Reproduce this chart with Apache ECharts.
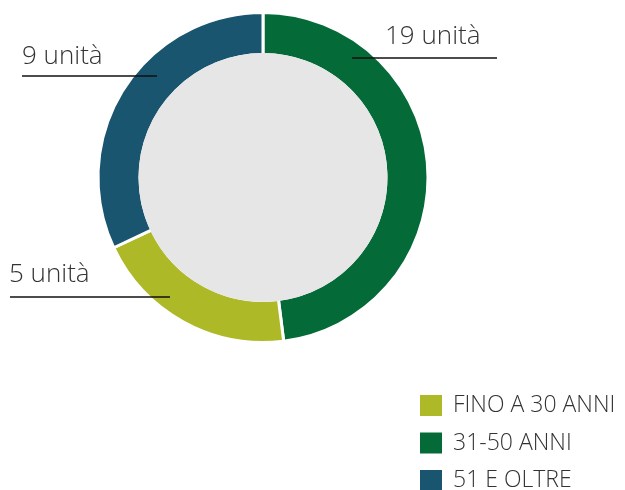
<!DOCTYPE html>
<html>
<head>
<meta charset="utf-8">
<script src="https://cdn.jsdelivr.net/npm/echarts@6/dist/echarts.min.js"></script>
<style>
html,body{margin:0;padding:0;background:#fff;}
#chart{width:625px;height:490px;}
</style>
</head>
<body>
<div id="chart"></div>
<script>
// Data (clockwise from top)
const categories = ['31-50 ANNI', 'FINO A 30 ANNI', '51 E OLTRE'];
const sliceShares = [48, 20, 32];      // slice sizes as drawn in the picture
const unitCounts = [19, 5, 9];          // numbers written in the labels
const legendOrder = ['FINO A 30 ANNI', '31-50 ANNI', '51 E OLTRE'];
const colors = ['#046a38', '#adb927', '#1a556f'];
const unitLabel = 'unità';

// annotation placement (label text position + underline)
const labelPlace = [
  {x: 385, y: 37, line: [[497, 58], [352, 58]]},
  {x: 9, y: 275, line: [[10, 297], [170, 297]]},
  {x: 22, y: 57, line: [[22, 76], [157, 76]]}
];

const chart = echarts.init(document.getElementById('chart'));
const fontFamily = '"Open Sans", "Noto Sans", sans-serif';
const pieData = categories.map((c, i) => ({name: c, value: sliceShares[i], itemStyle: {color: colors[i]}}));
chart.setOption({
  animation: false,
  legend: {
    orient: 'vertical',
    left: 415,
    top: 389,
    height: 200,
    itemWidth: 22,
    itemHeight: 21,
    itemGap: 14.5,
    itemStyle: {borderWidth: 0},
    icon: 'rect',
    data: legendOrder,
    textStyle: {fontFamily: fontFamily, fontWeight: 300, fontSize: 23, color: '#333', padding: [0, 0, 0, 6]}
  },
  series: [
    {
      type: 'pie',
      name: 'ring',
      center: [263, 177.5],
      radius: [123, 165],
      startAngle: 90,
      clockwise: true,
      itemStyle: {borderColor: '#fff', borderWidth: 3},
      label: {show: false},
      labelLine: {show: false},
      data: pieData,
      z: 2
    },
    {
      type: 'pie',
      name: 'bg',
      silent: true,
      center: [263, 177.5],
      radius: [0, 124.5],
      label: {show: false},
      labelLine: {show: false},
      itemStyle: {color: '#e6e6e6'},
      data: [{value: 1, name: 'bg'}],
      z: 3
    },
    {
      type: 'pie',
      name: 'labels',
      silent: true,
      center: [263, 177.5],
      radius: [123, 165],
      startAngle: 90,
      clockwise: true,
      itemStyle: {color: 'rgba(0,0,0,0)', borderWidth: 0},
      label: {
        show: true,
        overflow: 'none',
        width: 200,
        formatter: (p) => unitCounts[p.dataIndex] + ' ' + unitLabel,
        fontFamily: fontFamily,
        fontWeight: 300,
        fontSize: 26,
        color: '#333'
      },
      labelLine: {show: true, lineStyle: {color: '#111', width: 1.5, opacity: 1}},
      labelLayout: function (params) {
        const p = labelPlace[params.dataIndex];
        return {
          x: p.x,
          y: p.y,
          align: 'left',
          verticalAlign: 'middle',
          labelLinePoints: [p.line[0], p.line[1], p.line[1]]
        };
      },
      data: categories.map((c, i) => ({name: c, value: sliceShares[i]})),
      z: 4
    }
  ]
});
</script>
</body>
</html>
